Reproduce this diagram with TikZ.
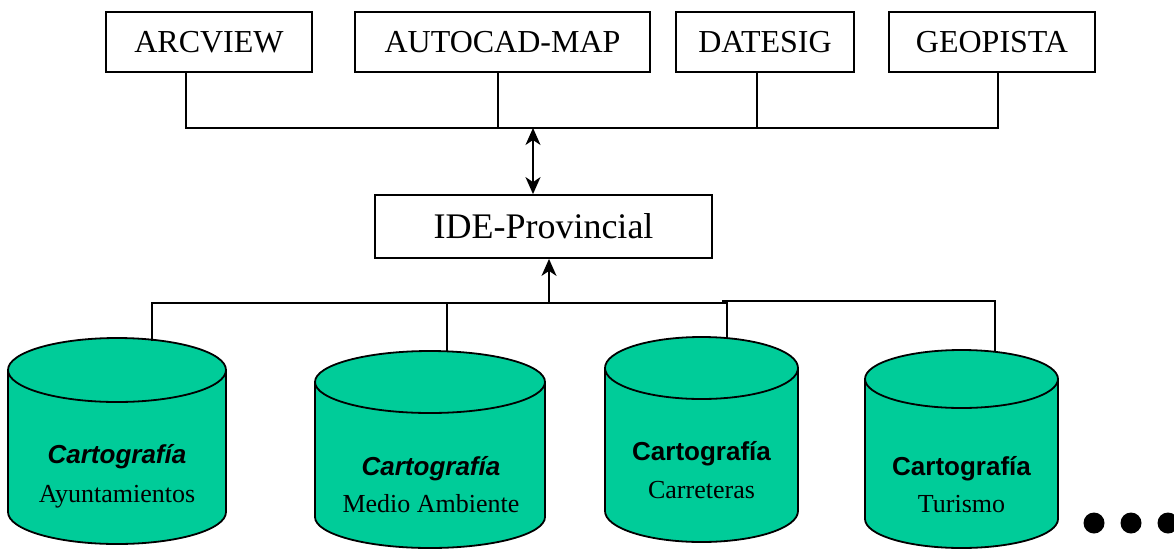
\documentclass[tikz,border=0pt]{standalone}
\usepackage{fontspec}
\setmainfont{Liberation Serif}
\setsansfont{Liberation Sans}
\usepackage{tikz}
\usetikzlibrary{arrows.meta}
\definecolor{cylgreen}{RGB}{0,204,153}

\begin{document}
\begin{tikzpicture}[x=1pt, y=-1pt,
  >={Stealth[length=17pt,width=15pt,inset=5pt]},
  tool/.style={draw, line width=1.8pt, minimum height=60pt, inner sep=0pt,
    font=\fontsize{32}{38}\selectfont},
  link/.style={line width=1.8pt},
  thin link/.style={line width=1.2pt},
  cyl/.style={fill=cylgreen, draw=black, line width=1.8pt},
  dbtitle/.style={anchor=base, font=\sffamily\bfseries\fontsize{26}{31}\selectfont},
  dbname/.style={anchor=base, font=\fontsize{26}{31}\selectfont}]
  \useasboundingbox (0,0) rectangle (1174,549);

  \node[tool, minimum width=206pt] (arc) at (209,42) {ARCVIEW};
  \node[tool, minimum width=295pt] (acad) at (502.5,42) {AUTOCAD-MAP};
  \node[tool, minimum width=178pt] (dsig) at (765,42) {DATESIG};
  \node[tool, minimum width=206pt] (geo) at (992,42) {GEOPISTA};
  \node[tool, minimum width=337pt, minimum height=63pt,
    font=\fontsize{36}{43}\selectfont] (ide) at (543.5,226.5) {IDE-Provincial};

  \coordinate (tbus) at (533,128);
  \coordinate (bbus) at (549,303);
  \coordinate (bjoin) at (722,301);
  \coordinate (arcdrop) at ([xshift=-23pt]arc.south);
  \coordinate (acaddrop) at ([xshift=-4.5pt]acad.south);
  \coordinate (dsigdrop) at ([xshift=-8pt]dsig.south);
  \coordinate (geodrop) at ([xshift=6pt]geo.south);

  \draw[link] (arcdrop) |- (tbus) -| (geodrop);
  \draw[thin link] (acaddrop) -- (acaddrop |- tbus);
  \draw[thin link] (dsigdrop) -- (dsigdrop |- tbus);
  \draw[link, <->] (tbus) -- (ide.north -| tbus);
  \draw[link, ->] (bbus) -- (ide.south -| bbus);

  \foreach \cx/\rx/\yt/\yb/\ry in {117/109/370/512/32, 430/115/382/517/31,
      701.5/96.5/368/511/31, 961.5/96.5/379/519/29} {
    \filldraw[cyl] (\cx-\rx,\yt) -- (\cx-\rx,\yb)
      arc[start angle=180, end angle=360, x radius=\rx pt, y radius=\ry pt]
      -- (\cx+\rx,\yt) -- cycle;
    \filldraw[cyl] (\cx,\yt) ellipse [x radius=\rx pt, y radius=\ry pt];
  }

  \coordinate (top1) at (152,341);
  \coordinate (top2) at (447,351);
  \coordinate (top3) at (727,338);
  \coordinate (top4) at (995,352);
  \draw[link] (top1) |- (bbus) -| (top3);
  \draw[link] (top2) -- (top2 |- bbus);
  \draw[thin link] (bjoin) -| (top4);

  \node[dbtitle] (ayt) at (117,463) {\itshape Cartografía};
  \node[dbname] (aytname) at (117,502) {Ayuntamientos};
  \node[dbtitle] (mamb) at (431,475) {\itshape Cartografía};
  \node[dbname] (mambname) at (431,512) {Medio Ambiente};
  \node[dbtitle] (carr) at (701.5,460) {Cartografía};
  \node[dbname] (carrname) at (701.5,498) {Carreteras};
  \node[dbtitle] (tur) at (961.5,475) {Cartografía};
  \node[dbname] (turname) at (961.5,512) {Turismo};

  \foreach \dx in {1094,1131,1168}
    \fill (\dx,523) circle [radius=10.5pt];
\end{tikzpicture}
\end{document}
